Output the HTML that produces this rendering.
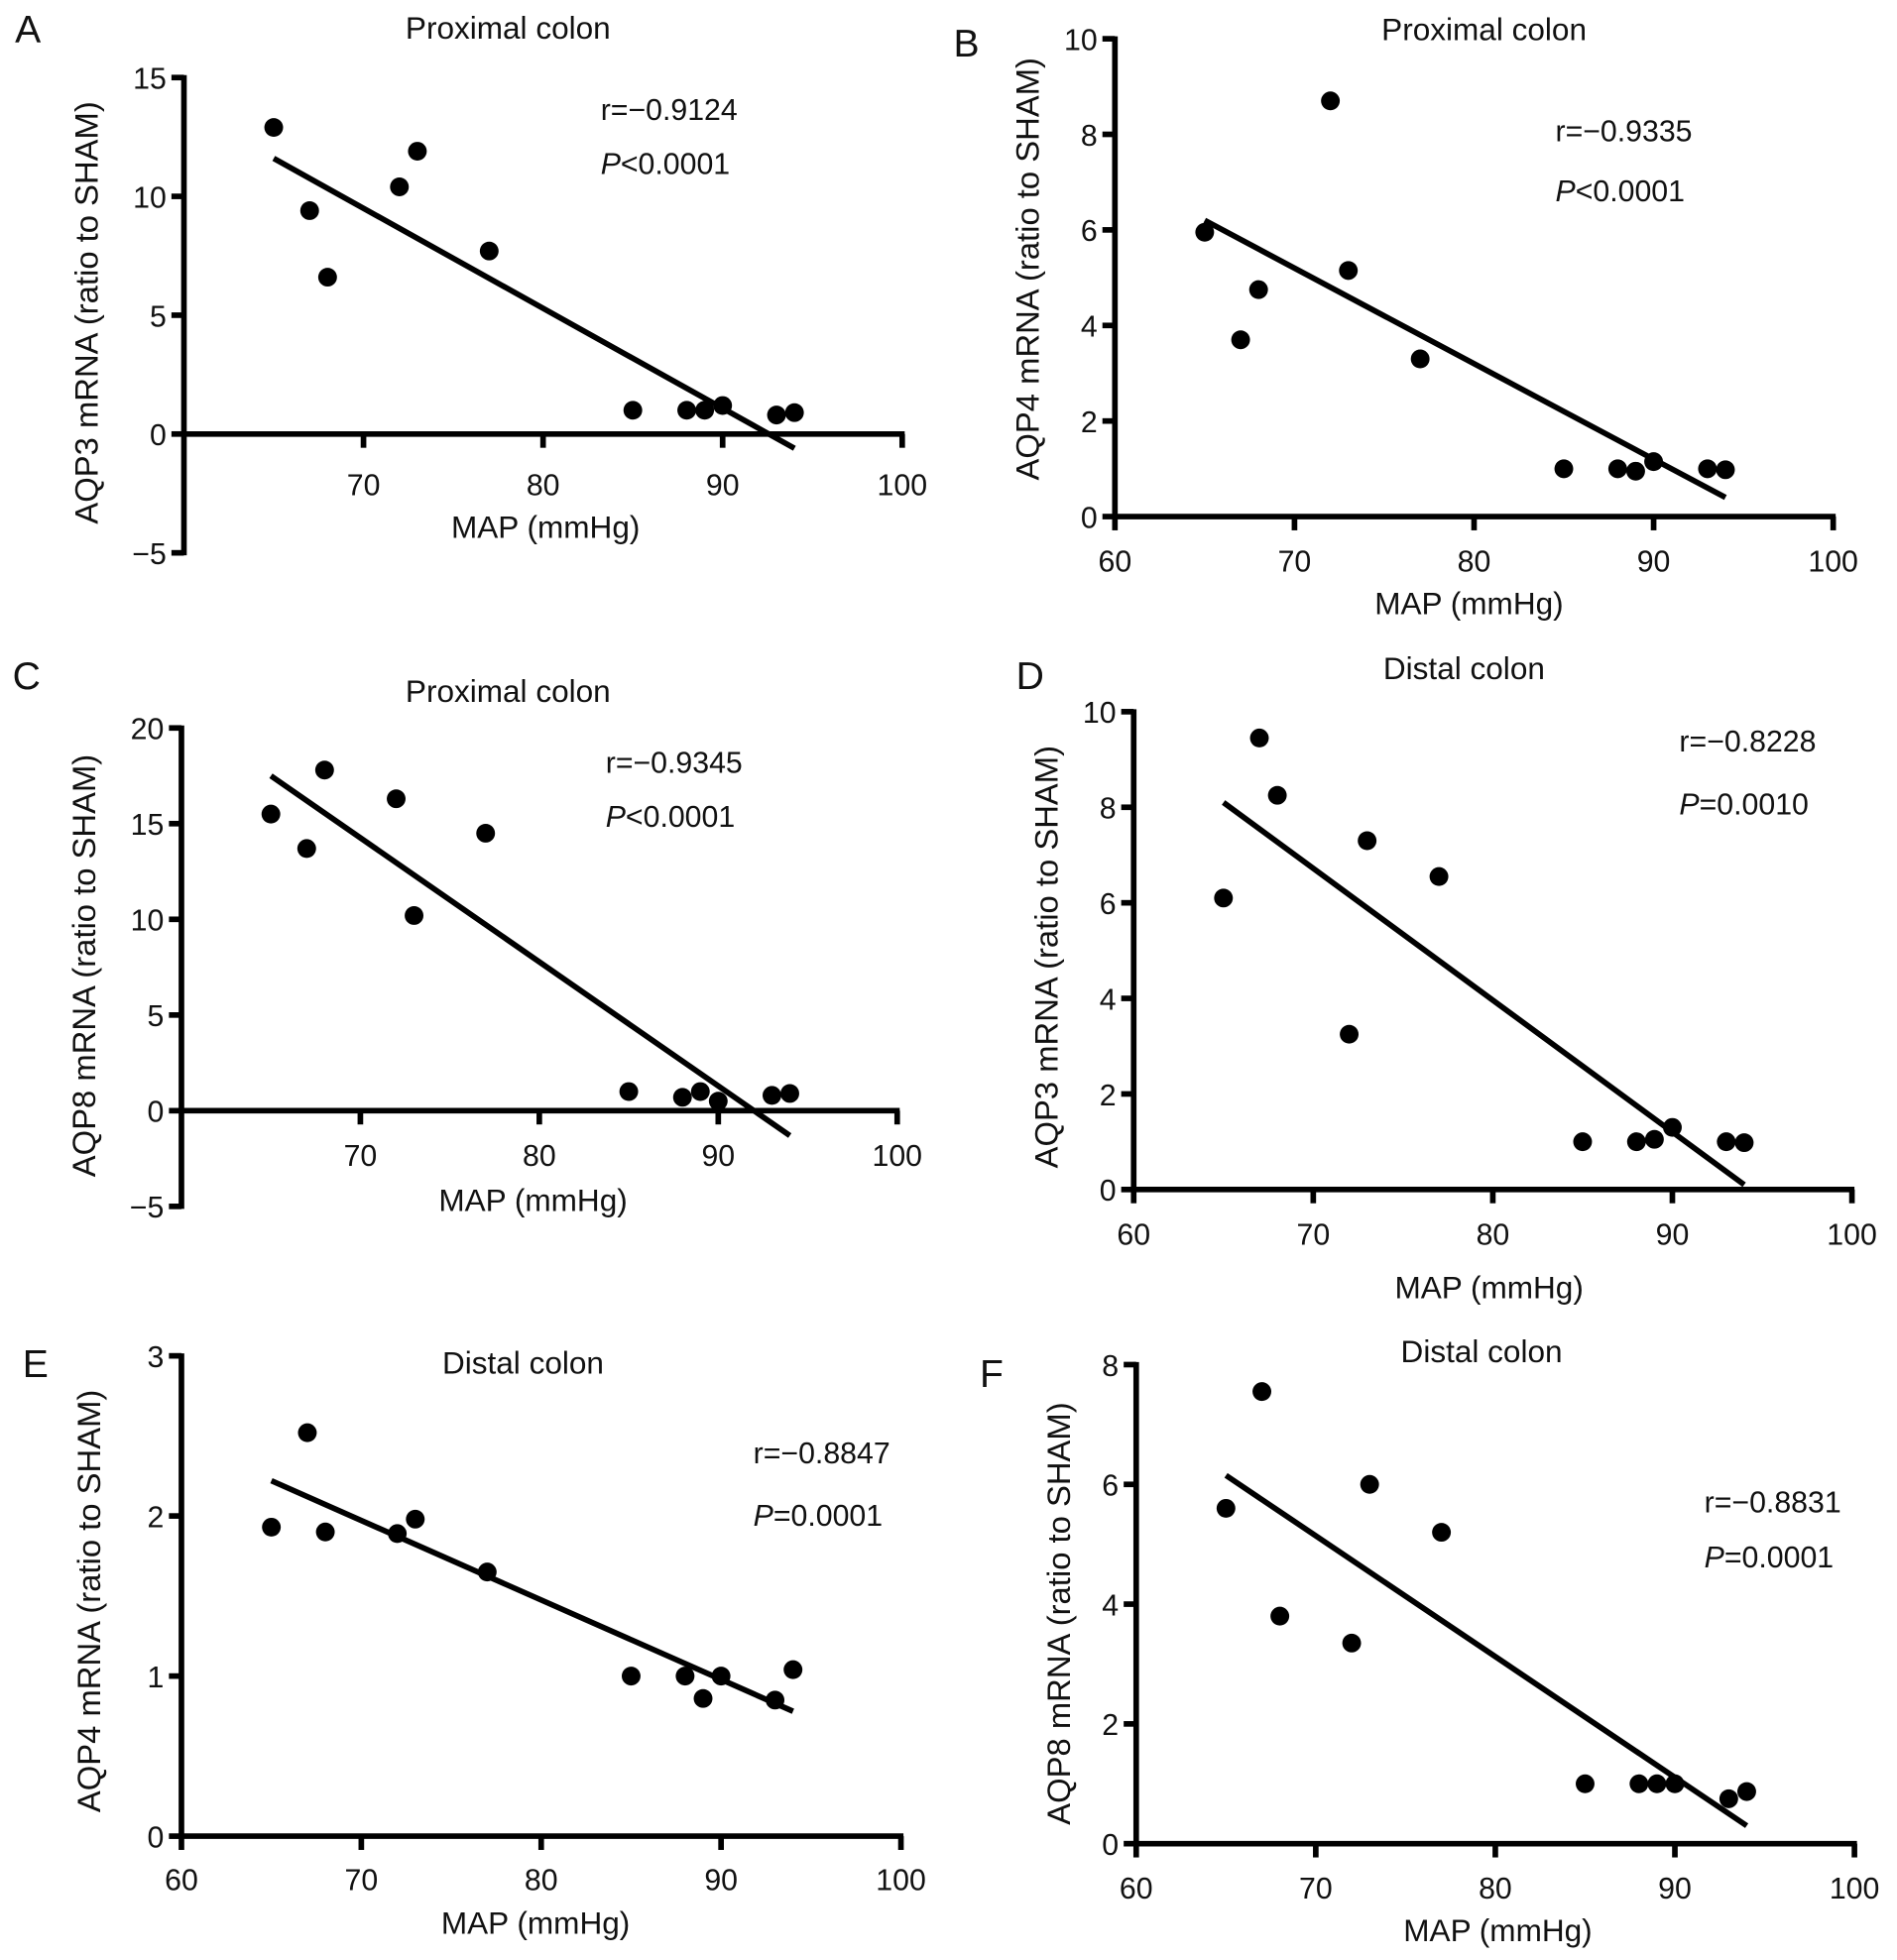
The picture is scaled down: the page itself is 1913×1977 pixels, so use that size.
<!DOCTYPE html>
<html><head><meta charset="utf-8"><style>
html,body{margin:0;padding:0;background:#fff;}
svg{display:block;}
text{font-family:"Liberation Sans",sans-serif;fill:#111;}
</style></head><body>
<svg id="fig" width="1913" height="1977" viewBox="0 0 1516 1567" preserveAspectRatio="none" xmlns="http://www.w3.org/2000/svg"></svg>
<script>
// ---- data arrays ----
const mapA=[65,67,68,72,73,77,85,88,89,90,93,94];
const aqpA=[12.9,9.4,6.6,10.4,11.9,7.7,1.0,1.0,1.0,1.2,0.8,0.9];
const fitA=[11.6,-0.6];
const mapB=[65,67,68,72,73,77,85,88,89,90,93,94];
const aqpB=[5.95,3.7,4.75,8.7,5.15,3.3,1.0,1.0,0.95,1.15,1.0,0.98];
const fitB=[6.2,0.4];
const mapC=[65,67,68,72,73,77,85,88,89,90,93,94];
const aqpC=[15.5,13.7,17.8,16.3,10.2,14.5,1.0,0.7,1.0,0.5,0.8,0.9];
const fitC=[17.5,-1.3];
const mapD=[65,67,68,72,73,77,85,88,89,90,93,94];
const aqpD=[6.1,9.45,8.25,3.25,7.3,6.55,1.0,1.0,1.05,1.3,1.0,0.98];
const fitD=[8.1,0.1];
const mapE=[65,67,68,72,73,77,85,88,89,90,93,94];
const aqpE=[1.93,2.52,1.9,1.89,1.98,1.65,1.0,1.0,0.86,1.0,0.85,1.04];
const fitE=[2.22,0.78];
const mapF=[65,67,68,72,73,77,85,88,89,90,93,94];
const aqpF=[5.6,7.55,3.8,3.35,6.0,5.2,1.0,1.0,1.0,1.0,0.75,0.87];
const fitF=[6.15,0.3];
const fitX=[65,94];
const xTicksAC=[70,80,90,100];
const xTicksOther=[60,70,80,90,100];
const yTicksA=[15,10,5,0,-5];
const yTicksB=[10,8,6,4,2,0];
const yTicksC=[20,15,10,5,0,-5];
const yTicksD=[10,8,6,4,2,0];
const yTicksE=[3,2,1,0];
const yTicksF=[8,6,4,2,0];

const NS="http://www.w3.org/2000/svg";
const svg=document.getElementById('fig');
function mk(tag,attrs,parent){const e=document.createElementNS(NS,tag);for(const k in attrs)e.setAttribute(k,attrs[k]);(parent||svg).appendChild(e);return e;}
function txt(s,x,y,size,anchor,parent,rot){const t=mk('text',{x:x,y:y,'font-size':size,'text-anchor':anchor||'middle'},parent);if(rot)t.setAttribute('transform','rotate(-90 '+x+' '+y+')');t.textContent=s;return t;}

const SW=4.5;
const panels=[
 {id:'a',L:'A',lx:12,ly:34,ax:147,x0:60,x100:721,yTop:62,yTopV:15,yZero:347,yMinV:-5,yTicks:yTicksA,xTicks:xTicksAC,xs:mapA,ys:aqpA,fit:fitA,title:'Proximal colon',tx:406,ty:31,st:['r=\u22120.9124','P','<0.0001'],sx:480,sy1:96,sy2:139,xlabel:'MAP (mmHg)',xlx:436,xly:430,ylabel:'AQP3 mRNA (ratio to SHAM)',ylx:78,yly:250,tly:396},
 {id:'b',L:'B',lx:762,ly:45,ax:891,x0:60,x100:1465,yTop:31,yTopV:10,yZero:413,yMinV:0,yTicks:yTicksB,xTicks:xTicksOther,xs:mapB,ys:aqpB,fit:fitB,title:'Proximal colon',tx:1186,ty:32,st:['r=\u22120.9335','P','<0.0001'],sx:1243,sy1:113,sy2:161,xlabel:'MAP (mmHg)',xlx:1174,xly:491,ylabel:'AQP4 mRNA (ratio to SHAM)',ylx:830,yly:215,tly:457},
 {id:'c',L:'C',lx:10,ly:551,ax:145,x0:60,x100:717,yTop:582,yTopV:20,yZero:888,yMinV:-5,yTicks:yTicksC,xTicks:xTicksAC,xs:mapC,ys:aqpC,fit:fitC,title:'Proximal colon',tx:406,ty:561,st:['r=\u22120.9345','P','<0.0001'],sx:484,sy1:618,sy2:661,xlabel:'MAP (mmHg)',xlx:426,xly:968,ylabel:'AQP8 mRNA (ratio to SHAM)',ylx:76,yly:772,tly:932},
 {id:'d',L:'D',lx:812,ly:551,ax:906,x0:60,x100:1480,yTop:569,yTopV:10,yZero:951,yMinV:0,yTicks:yTicksD,xTicks:xTicksOther,xs:mapD,ys:aqpD,fit:fitD,title:'Distal colon',tx:1170,ty:543,st:['r=\u22120.8228','P','=0.0010'],sx:1342,sy1:601,sy2:651,xlabel:'MAP (mmHg)',xlx:1190,xly:1038,ylabel:'AQP3 mRNA (ratio to SHAM)',ylx:845,yly:765,tly:995},
 {id:'e',L:'E',lx:18,ly:1101,ax:145,x0:60,x100:720,yTop:1084,yTopV:3,yZero:1468,yMinV:0,yTicks:yTicksE,xTicks:xTicksOther,xs:mapE,ys:aqpE,fit:fitE,title:'Distal colon',tx:418,ty:1098,st:['r=\u22120.8847','P','=0.0001'],sx:602,sy1:1170,sy2:1220,xlabel:'MAP (mmHg)',xlx:428,xly:1546,ylabel:'AQP4 mRNA (ratio to SHAM)',ylx:80,yly:1280,tly:1511},
 {id:'f',L:'F',lx:783,ly:1109,ax:908,x0:60,x100:1482,yTop:1091,yTopV:8,yZero:1474,yMinV:0,yTicks:yTicksF,xTicks:xTicksOther,xs:mapF,ys:aqpF,fit:fitF,title:'Distal colon',tx:1184,ty:1089,st:['r=\u22120.8831','P','=0.0001'],sx:1362,sy1:1209,sy2:1253,xlabel:'MAP (mmHg)',xlx:1197,xly:1552,ylabel:'AQP8 mRNA (ratio to SHAM)',ylx:855,yly:1290,tly:1518}
];

panels.forEach(p=>{
  const g=mk('g',{});
  
  
  const sx=v=>p.ax+(v-60)*(p.x100-p.ax)/40;
  const ky=(p.yZero-p.yTop)/p.yTopV;
  const sy=v=>p.yZero-v*ky;
  const yBot=sy(p.yMinV);
  const pl=txt(p.L,p.lx,p.ly,31,'start',g);
  
  
  const ti=txt(p.title,p.tx,p.ty,25,'middle',g);
  
  
  const ya=mk('line',{x1:p.ax,y1:p.yTop-2,x2:p.ax,y2:yBot+2,stroke:'#000','stroke-width':SW},g);
  
  
  p.yTicks.forEach(v=>{
    const y=sy(v);
    mk('line',{x1:p.ax-10,y1:y,x2:p.ax,y2:y,stroke:'#000','stroke-width':SW},g);
    const t=txt(String(v).replace('-','\u2212'),p.ax-14,y+9,24,'end',g);
    
    
  });
  const xa=mk('line',{x1:p.ax,y1:p.yZero,x2:p.x100+2,y2:p.yZero,stroke:'#000','stroke-width':SW},g);
  
  
  p.xTicks.forEach(v=>{
    const x=sx(v);
    mk('line',{x1:x,y1:p.yZero,x2:x,y2:p.yZero+11,stroke:'#000','stroke-width':SW},g);
    const t=txt(String(v),x,p.tly,24,'middle',g);
    
    
  });
  const xl=txt(p.xlabel,p.xlx,p.xly,25,'middle',g);
  
  
  const yl=txt(p.ylabel,p.ylx,p.yly,26,'middle',g,true);
  
  
  const r=txt(p.st[0],p.sx,p.sy1,24,'start',g);
  
  
  const pv=mk('text',{x:p.sx,y:p.sy2,'font-size':24},g);
  
  
  const ts=mk('tspan',{'font-style':'italic'},pv);ts.textContent=p.st[1];
  const ts2=mk('tspan',{},pv);ts2.textContent=p.st[2];
  const ln=mk('line',{x1:sx(fitX[0]),y1:sy(p.fit[0]),x2:sx(fitX[1]),y2:sy(p.fit[1]),stroke:'#000','stroke-width':SW},g);
  
  
  p.xs.forEach((xv,i)=>{
    const c=mk('circle',{cx:sx(xv),cy:sy(p.ys[i]),r:7.5,fill:'#000'},g);
    
    
  });
});
</script>
</body></html>
